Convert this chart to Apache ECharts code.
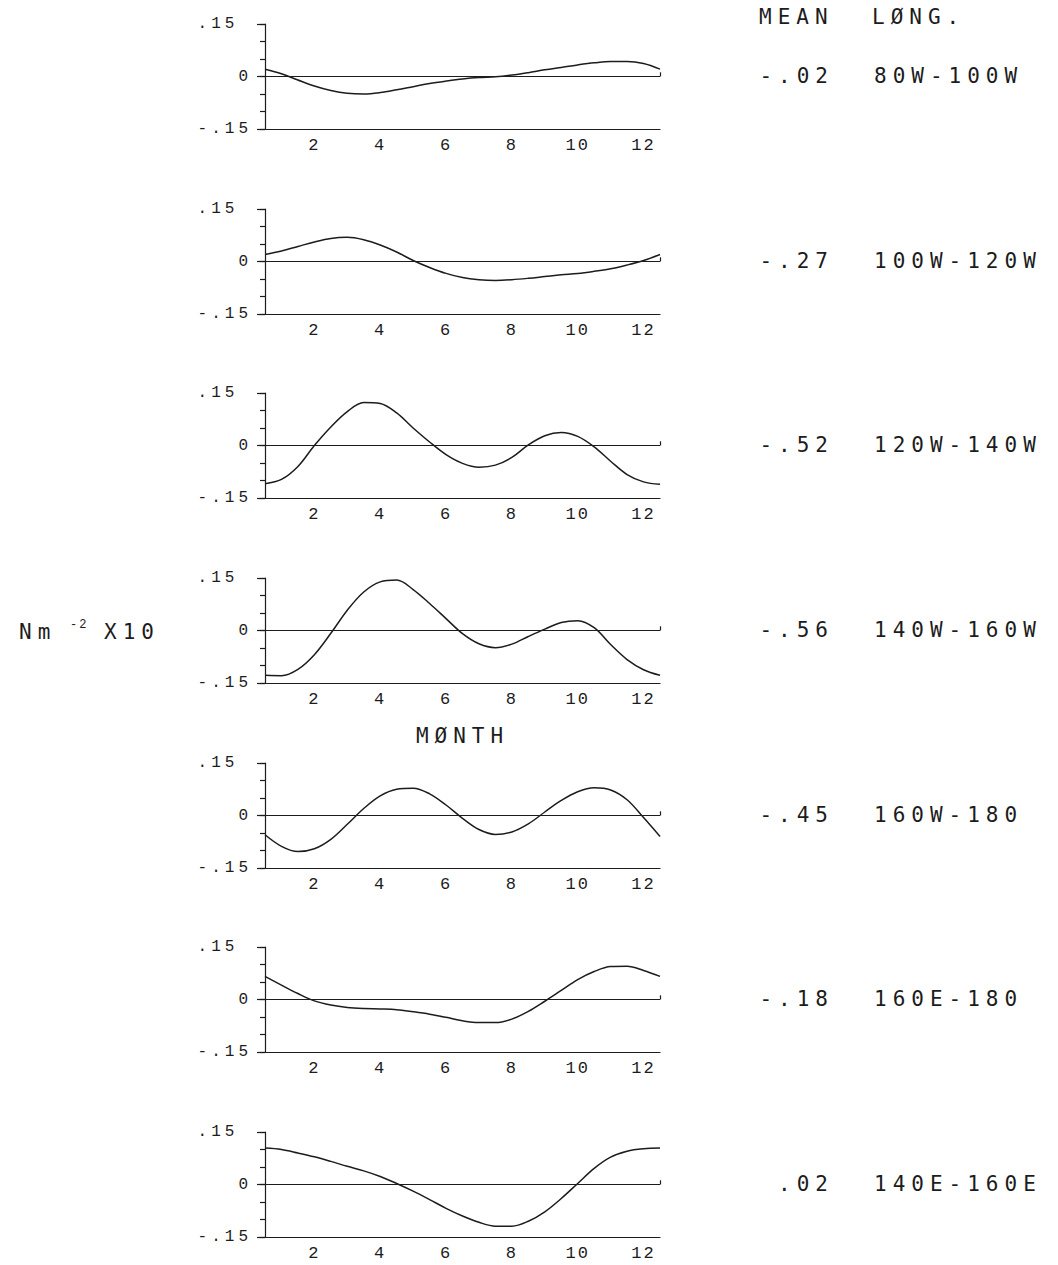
<!DOCTYPE html>
<html>
<head>
<meta charset="utf-8">
<title>Wind stress anomaly by month</title>
<script src="https://cdn.jsdelivr.net/npm/echarts@6/dist/echarts.min.js"></script>
<style>
  html, body { margin: 0; padding: 0; background: #fff; }
  #chart { width: 1058px; height: 1265px; }
  /* plotter lettering is widely spaced */
  #chart text[style*="DejaVu"] { letter-spacing: 6px; }
  #chart text[style*="Liberation"] { letter-spacing: 2px; }
  #chart text[style*="16px"] { letter-spacing: 4px; }
</style>
</head>
<body>
<div id="chart"></div>
<script>
// month positions (0.5 = start of Jan, 12.5 = end of Dec)
const months = [0.5, 1, 1.5, 2, 2.5, 3, 3.5, 4, 4.5, 5, 5.5, 6, 6.5, 7, 7.5, 8, 8.5, 9, 9.5, 10, 10.5, 11, 11.5, 12, 12.5];
const monthLabels = ['1', '2', '3', '4', '5', '6', '7', '8', '9', '10', '11', '12'];

// anomaly curves, Nm-2 x10
const lon80W100W = [0.021, 0.008, -0.010, -0.027, -0.040, -0.048, -0.050, -0.046, -0.038, -0.029, -0.020, -0.013, -0.007, -0.003, -0.001, 0.004, 0.011, 0.019, 0.026, 0.033, 0.039, 0.043, 0.043, 0.037, 0.021];
const lon100W120W = [0.020, 0.030, 0.043, 0.056, 0.066, 0.069, 0.062, 0.047, 0.027, 0.003, -0.017, -0.034, -0.046, -0.052, -0.054, -0.052, -0.048, -0.043, -0.038, -0.034, -0.028, -0.021, -0.010, 0.003, 0.020];
const lon120W140W = [-0.109, -0.097, -0.060, 0.000, 0.053, 0.097, 0.123, 0.120, 0.093, 0.050, 0.010, -0.026, -0.051, -0.062, -0.056, -0.034, 0.002, 0.028, 0.037, 0.026, -0.004, -0.045, -0.083, -0.104, -0.111];
const lon140W160W = [-0.128, -0.129, -0.111, -0.069, -0.008, 0.058, 0.110, 0.139, 0.144, 0.117, 0.077, 0.034, -0.009, -0.038, -0.049, -0.039, -0.017, 0.004, 0.023, 0.028, 0.008, -0.040, -0.083, -0.112, -0.128];
const lon160W180 = [-0.055, -0.088, -0.103, -0.095, -0.068, -0.025, 0.020, 0.056, 0.075, 0.078, 0.062, 0.030, -0.008, -0.040, -0.054, -0.047, -0.024, 0.010, 0.043, 0.068, 0.079, 0.073, 0.045, -0.006, -0.060];
const lon160E180 = [0.066, 0.041, 0.017, -0.004, -0.016, -0.023, -0.026, -0.027, -0.029, -0.035, -0.042, -0.051, -0.061, -0.066, -0.066, -0.056, -0.034, -0.005, 0.026, 0.057, 0.080, 0.094, 0.095, 0.083, 0.066];
const lon140E160E = [0.104, 0.100, 0.090, 0.079, 0.066, 0.052, 0.039, 0.023, 0.003, -0.019, -0.043, -0.068, -0.090, -0.108, -0.119, -0.119, -0.105, -0.078, -0.040, 0.003, 0.046, 0.078, 0.095, 0.102, 0.104];

const means = ['-.02', '-.27', '-.52', '-.56', '-.45', '-.18', '.02'];
const longitudes = ['80W-100W', '100W-120W', '120W-140W', '140W-160W', '160W-180', '160E-180', '140E-160E'];

const curves = [lon80W100W, lon100W120W, lon120W140W, lon140W160W, lon160W180, lon160E180, lon140E160E];

const ink = '#1c1c1c';
const panelTops = [24, 209, 393, 578, 763, 947, 1132];
const panelH = 105;

let grids = [], xAxes = [], yAxes = [], series = [], graphics = [];

curves.forEach((vals, i) => {
  grids.push({ left: 265, top: panelTops[i], width: 395, height: panelH });

  // month axis: ticks between months, even months labelled
  xAxes.push({
    type: 'category', gridIndex: i, position: 'bottom', data: monthLabels, boundaryGap: true,
    axisLine: { onZero: false, lineStyle: { color: ink, width: 1.2 } },
    axisTick: { interval: 0, length: 4, lineStyle: { color: ink, width: 1.2 } },
    axisLabel: { interval: (idx) => idx % 2 === 1, margin: 8, color: ink, fontFamily: 'Liberation Mono', fontSize: 17 },
    splitLine: { show: false },
    name: i === 3 ? 'MØNTH' : '', nameLocation: 'middle', nameGap: 42,
    nameTextStyle: { color: ink, fontFamily: 'DejaVu Sans Mono', fontSize: 21 }
  });
  // same ticks pointing up
  xAxes.push({
    type: 'category', gridIndex: i, position: 'bottom', data: monthLabels, boundaryGap: true,
    axisLine: { show: false, onZero: false },
    axisTick: { inside: true, interval: 0, length: 3, lineStyle: { color: ink, width: 1.2 } },
    axisLabel: { show: false }, splitLine: { show: false }
  });
  // value axis carrying the curve
  xAxes.push({ type: 'value', gridIndex: i, position: 'bottom', min: 0.5, max: 12.5, show: false, axisLine: { onZero: false } });

  yAxes.push({
    type: 'value', gridIndex: i, position: 'left', min: -0.15, max: 0.15, interval: 0.15,
    axisLine: { show: true, onZero: false, lineStyle: { color: ink, width: 1.2 } },
    axisTick: { show: true, length: 8, lineStyle: { color: ink, width: 1.2 } },
    axisLabel: {
      margin: 13, color: ink, fontFamily: 'Liberation Mono', fontSize: 16,
      formatter: (v) => {
        const r = Math.round(v * 100);
        if (r === 0) return '0';
        return r > 0 ? '.15\u00a0' : '-.15';
      }
    },
    splitLine: { show: false }
  });
  yAxes.push({
    type: 'value', gridIndex: i, position: 'left', min: -0.15, max: 0.15, interval: 0.05,
    axisLine: { show: false, onZero: false },
    axisTick: { show: true, length: 5, lineStyle: { color: ink, width: 1.2 } },
    axisLabel: { show: false }, splitLine: { show: false }
  });

  series.push({
    type: 'line', xAxisIndex: 3 * i + 2, yAxisIndex: 2 * i,
    data: months.map((m, k) => [m, vals[k]]),
    smooth: 0.35, showSymbol: false, silent: true,
    lineStyle: { color: ink, width: 1.5 },
    markLine: {
      silent: true, symbol: ['none', 'none'], label: { show: false },
      lineStyle: { color: ink, width: 1.2, type: 'solid' },
      data: [
        { yAxis: 0 },
        [{ coord: [12.5, 0] }, { coord: [12.5, 0.012] }]
      ]
    }
  });

  const rowY = panelTops[i] + panelH / 2 - 1;
  graphics.push({
    type: 'text', x: 834, y: rowY,
    style: { text: means[i], fill: ink, fontFamily: 'DejaVu Sans Mono', fontSize: 21, align: 'right', verticalAlign: 'middle' }
  });
  graphics.push({
    type: 'text', x: 874, y: rowY,
    style: { text: longitudes[i], fill: ink, fontFamily: 'DejaVu Sans Mono', fontSize: 21, align: 'left', verticalAlign: 'middle' }
  });
});

// column headers and unit label
graphics.push(
  { type: 'text', x: 759, y: 17, style: { text: 'MEAN', fill: ink, fontFamily: 'DejaVu Sans Mono', fontSize: 21, align: 'left', verticalAlign: 'middle' } },
  { type: 'text', x: 872, y: 17, style: { text: 'LØNG.', fill: ink, fontFamily: 'DejaVu Sans Mono', fontSize: 21, align: 'left', verticalAlign: 'middle' } },
  { type: 'text', x: 19, y: 632, style: { text: 'Nm', fill: ink, fontFamily: 'DejaVu Sans Mono', fontSize: 21, align: 'left', verticalAlign: 'middle' } },
  { type: 'text', x: 70, y: 625, style: { text: '-2', fill: ink, fontFamily: 'Liberation Mono', fontSize: 12, align: 'left', verticalAlign: 'middle' } },
  { type: 'text', x: 104, y: 632, style: { text: 'X10', fill: ink, fontFamily: 'DejaVu Sans Mono', fontSize: 21, align: 'left', verticalAlign: 'middle' } }
);

const chart = echarts.init(document.getElementById('chart'), null, { renderer: 'svg' });
chart.setOption({
  backgroundColor: '#fff',
  animation: false,
  grid: grids,
  xAxis: xAxes,
  yAxis: yAxes,
  series: series,
  graphic: graphics
});
</script>
</body>
</html>
